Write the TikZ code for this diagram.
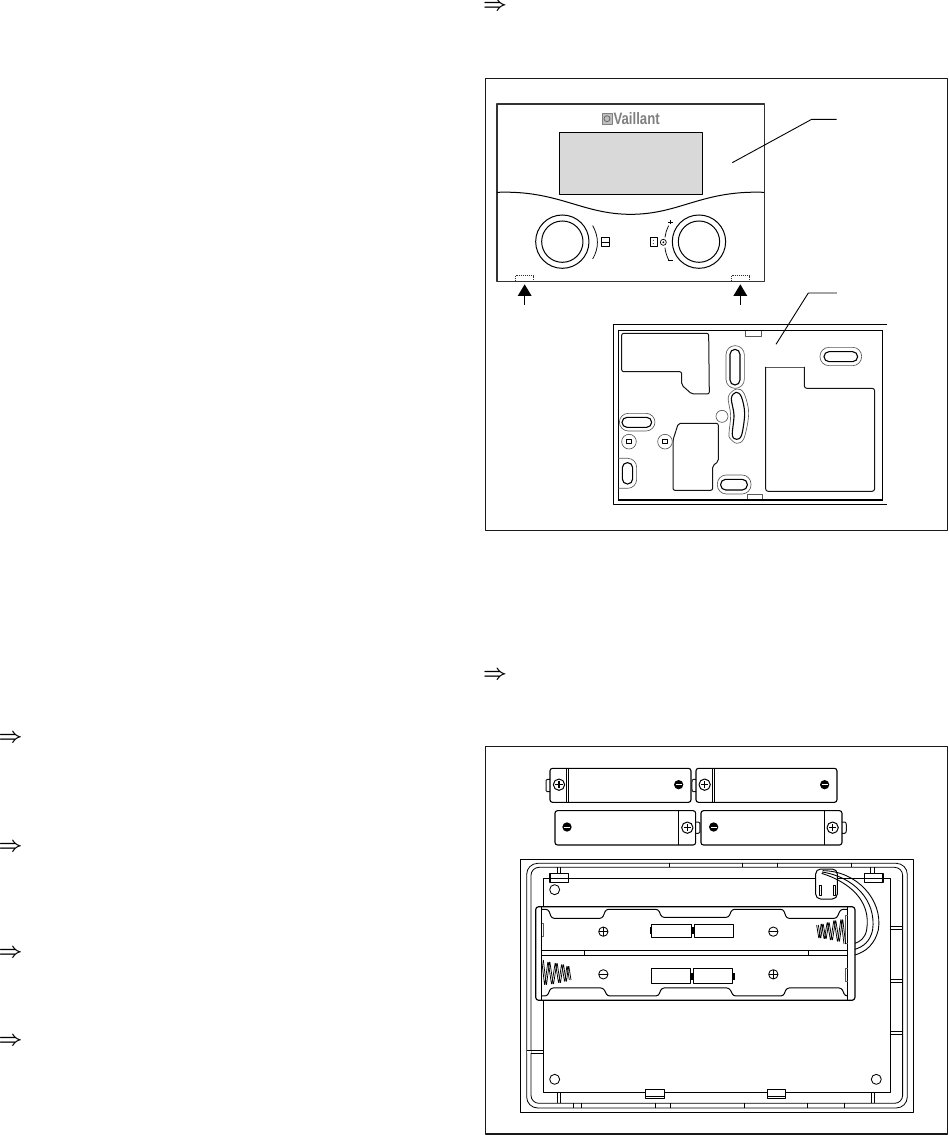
\documentclass[tikz,border=0pt]{standalone}
\usepackage{fontspec}
\setmainfont{Liberation Sans}
\begin{document}
\begin{tikzpicture}[x=1pt,y=-1pt,line join=round,
  frm/.style={draw=black!90,line width=1.1pt},
  ln/.style={draw=black!92,line width=1pt},
  thin gr/.style={draw=black!65,line width=.65pt},
  z1/.style={shift={(485pt,-75pt)},x=.3333pt,y=-.3333pt},
  z2/.style={shift={(600pt,-300pt)},x=.3333pt,y=-.3333pt},
  z3/.style={shift={(520pt,-750pt)},x=.3333pt,y=-.3333pt},
  z4/.style={shift={(520pt,-850pt)},x=.3333pt,y=-.3333pt},
  z5/.style={shift={(515pt,-1000pt)},x=.3333pt,y=-.3333pt},
  impl/.style={inner sep=0pt,font=\fontsize{20}{20}\selectfont\boldmath}]
\useasboundingbox (0,0) rectangle (949,1135);
\fill[white] (0,0) rectangle (949,1135);
% implication arrows
\node[impl] (i1) at (495,6.5) {$\Rightarrow$};
\node[impl] (i2) at (495,675) {$\Rightarrow$};
\node[impl] (i3) at (10.5,738) {$\Rightarrow$};
\node[impl] (i4) at (10.5,847) {$\Rightarrow$};
\node[impl] (i5) at (10.5,953) {$\Rightarrow$};
\node[impl] (i6) at (10.5,1041) {$\Rightarrow$};
% frames
\draw[frm] (485.5,78.5) rectangle (947.5,530.5);
\draw[frm] (485.5,746.5) rectangle (947.5,1134);
% ---------- top figure
\begin{scope}[z1]
\draw[line width=1.2pt,draw=black!80] (36,87) rectangle (838,620);
\draw[line width=1pt,fill=black!15] (224,172) rectangle (652,358);
\draw[line width=1.5pt] (224,172) -- (224,358);
\draw[line width=1pt] (36,352) .. controls (220,345) and (290,418) .. (437,418) .. controls (585,418) and (650,345) .. (838,352);
\node[inner sep=0pt,text=black!50,font=\bfseries\fontsize{16.5}{16.5}\selectfont,xscale=.8] (logo) at (455,131) {Vaillant};
\draw[black!50,line width=.8pt,fill=black!25] (352,114) rectangle (381,149);
\draw[black!60,line width=.8pt] (366,131) circle (9);
\foreach \c in {(232,500),(642,500)}{
  \draw[line width=1pt] \c circle (80);
  \draw[line width=1pt] \c circle (62);
}
\draw[line width=.75pt] (323,452) .. controls (342,485) and (342,520) .. (323,552);
\draw[line width=.85pt] (350,487) rectangle (372,515) (350,501) -- (372,501);
\draw[line width=1pt] (497,487) rectangle (517,515);
\fill (505,496) circle (1.5) (505,506) circle (1.5);
\draw[line width=.7pt] (535,502) circle (9);
\fill (535,502) circle (3);
\draw[line width=.75pt] (551,452) .. controls (545,465) and (541,475) .. (540,487);
\draw[line width=.75pt] (540,518) .. controls (541,530) and (545,542) .. (551,555);
\draw[line width=.75pt] (550,442) -- (563,442) (556.5,436) -- (556.5,448);
\draw[line width=1pt] (550,558) -- (563,558);
\draw[line width=.5pt,dash pattern=on 1.2pt off .8pt,draw=black!80] (92,602) rectangle (146,618);
\draw[line width=.5pt,dash pattern=on 1.2pt off .8pt,draw=black!80] (740,602) rectangle (794,618);
\fill (119,628) -- (98,663) -- (140,663) -- cycle;
\fill (766,628) -- (745,663) -- (787,663) -- cycle;
\draw[line width=.9pt] (119,660) -- (119,690);
\draw[line width=.9pt] (766,660) -- (766,690);
\draw[line width=.9pt] (742,263) -- (980,133) -- (1055,133);
\end{scope}
\begin{scope}[z2]
\draw[line width=.9pt] (528,133) -- (625,-21) -- (711,-21);
\draw[line width=1pt] (862,73) -- (40,73) -- (40,615) -- (862,615);
\draw[line width=1.1pt] (55,92) rectangle (848,600);
\draw[thin gr,fill=white] (436,92) rectangle (484,108);
\draw[thin gr,fill=white] (442,583) rectangle (486,600);
\draw[line width=1.1pt] (55,92) -- (848,92) (55,600) -- (848,600);
% cut-outs
\draw[ln,rounded corners=2pt] (65,100) -- (326,100) -- (328,282) -- (275,282) -- (245,255) -- (245,215) -- (65,215) -- cycle;
\draw[ln,rounded corners=2pt] (235,370) -- (355,370) -- (355,485) -- (338,497) -- (338,571) -- (219,571) -- (219,420) -- cycle;
\draw[thin gr] (613,201) -- (497,201);
\draw[ln,rounded corners=2.5pt] (497,201) -- (497,574) -- (824,574) -- (824,265) -- (613,265) -- (613,201);
% slots
\draw[thin gr,rounded corners=9pt] (378,137) rectangle (433,265);
\foreach \a/\b/\c/\d/\r in {390/148/420/255/5, 672/155/773/185/5, 66/352/155/382/5, 362/538/442/570/5, 67/488/98/552/5}{
  \draw[line width=1.1pt,rounded corners=\r pt] (\a,\b) rectangle (\c,\d);
}
\foreach \a/\b/\c/\d/\r in {660/142/785/197/9, 58/340/165/393/9, 352/525/453/582/9}{
  \draw[thin gr,rounded corners=\r pt] (\a,\b) rectangle (\c,\d);
}
\draw[thin gr,rounded corners=9pt] (55,475) -- (110,475) -- (110,565) -- (55,565);
\draw[thin gr] plot[smooth cycle,tension=.55] coordinates {(410,267) (432,280) (446,340) (432,415) (410,430) (390,415) (387,400) (392,345) (385,290)};
\draw[line width=1.1pt] plot[smooth cycle,tension=.55] coordinates {(408,277) (424,290) (434,340) (425,405) (410,418) (397,405) (402,345) (394,295)};
\draw[thin gr] (366,349) circle (18);
\foreach \x in {87,195}{
  \draw[thin gr] (\x,425) circle (22);
  \draw[line width=1pt] (\x-7,418) rectangle (\x+7,432);
}
\end{scope}
% ---------- batteries
\begin{scope}[z3]
\foreach \a/\b/\c/\d/\pl/\mi/\my/\la/\lb/\n/\nb in {
  90/55/513/157/117/476/104/140/146/78/90,
  528/55/951/157/554/914/104/577/583/516/528}{
  \draw[ln] (\nb,88) -- (\n+4,88) to[out=180,in=90] (\n,96) -- (\n,117) to[out=-90,in=180] (\n+4,125) -- (\nb,125);
  \draw[line width=1.1pt,rounded corners=2.5pt] (\a,\b) rectangle (\c,\d);
  \draw[line width=.75pt] (\la,\b) -- (\la,\d) (\lb,\b) -- (\lb,\d);
  \draw[line width=1pt] (\pl,104) circle (17);
  \draw[line width=1.5pt] (\pl-11,104) -- (\pl+11,104) (\pl,93) -- (\pl,115);
  \fill (\mi,\my) circle (14);
  \draw[white,line width=.8pt] (\mi-9,\my) -- (\mi+9,\my);
}
\foreach \a/\c/\pl/\mi/\la in {105/527/502/141/476, 543/966/938/581/914}{
  \draw[ln] (\c,216) -- (\c+8,216) to[out=0,in=90] (\c+13,224) -- (\c+13,242) to[out=-90,in=0] (\c+8,250) -- (\c,250);
  \draw[line width=1.1pt,rounded corners=2.5pt] (\a,182) rectangle (\c,285);
  \draw[line width=1.2pt] (\la,182) -- (\la,285);
  \draw[line width=1pt] (\pl,233) circle (17);
  \draw[line width=1.5pt] (\pl-11,233) -- (\pl+11,233) (\pl,222) -- (\pl,244);
  \fill (\mi,231) circle (14);
  \draw[white,line width=.8pt] (\mi-9,231) -- (\mi+9,231);
}
\end{scope}
% ---------- holder
\begin{scope}[z4]
\draw[line width=.9pt] (0,27.5) rectangle (1179.5,787);
\draw[line width=.8pt,rounded corners=11pt] (20,40) rectangle (1162,774);
\draw[line width=.8pt,rounded corners=8pt] (33,52) rectangle (1148,760);
\foreach \x in {448,667,772,994} \draw[line width=.75pt] (\x,40) -- (\x,52);
% plate
\draw[line width=1pt] (70,85) rectangle (1113,727);
% top tabs
\foreach \a/\s/\t in {90/112/122, 1033/1052/1062}{
  \draw[line width=.75pt] (\s,52) -- (\s,70) (\t,52) -- (\t,70);
  \draw[line width=1.1pt,fill=white] (\a,70) rectangle (\a+56,97);
  \draw[line width=.6pt] (\a,85) -- (\a+56,85);
}
\draw[line width=.85pt] (104,119) circle (15);
% side notches
\foreach \y in {228,238,388,398,544,553} \draw[line width=.85pt] (1113,\y) -- (1148,\y);
\draw[line width=1pt] (20,602) -- (70,602) (33,610) -- (70,610);
\fill[white] (20,604) rectangle (32,609);
% connector
\draw[line width=1pt,fill=white,rounded corners=5pt] (887,57) rectangle (952,147);
\draw[line width=.85pt] (897,105) rectangle (903,135) (939,105) rectangle (945,135);
% wires
\begin{scope}[line width=.9pt,double=white,double distance=1.2pt,draw=black]
\draw (908,62) .. controls (1010,62) and (1090,150) .. (1075,240) .. controls (1065,280) and (1040,305) .. (1005,315);
\draw (906,66) .. controls (1000,80) and (1070,150) .. (1058,240) .. controls (1050,275) and (1030,290) .. (1005,298);
\draw (905,70) .. controls (985,95) and (1055,150) .. (1040,240) .. controls (1035,265) and (1020,275) .. (1005,280);
\end{scope}
% battery holder
\draw[line width=1.2pt,fill=white,rounded corners=3pt] (47,170) rectangle (1005,451);
\draw[line width=1pt] (65,172) -- (65,450) (984,172) -- (984,450);
\draw[line width=1pt,rounded corners=2.5pt] (65,178) -- (85,178) -- (95,205) -- (247,205) -- (258,178) -- (415,178) -- (425,202) -- (626,202) -- (636,178) -- (790,178) -- (800,205) -- (950,205) -- (962,178) -- (984,178);
\draw[line width=1pt,rounded corners=2.5pt] (65,438) -- (82,438) -- (92,414) -- (250,414) -- (262,438) -- (415,438) -- (425,414) -- (628,414) -- (640,438) -- (790,438) -- (800,414) -- (965,414) -- (975,438) -- (984,438);
\draw[line width=1.1pt] (65,302) -- (984,302) (65,316) -- (984,316);
\draw[line width=.85pt] (193,302) -- (193,316) (865,302) -- (865,316);
\draw[thin gr] (65,220) -- (70,220) -- (70,260) -- (65,260);
\draw[thin gr] (984,355) -- (976,355) -- (976,395) -- (984,395);
\draw[thin gr] (984,195) -- (976,195) -- (976,280) -- (984,280);
% pole symbols
\foreach \x/\y in {250/245,760/373}{
  \draw[line width=.85pt] (\x,\y) circle (14);
  \draw[line width=.85pt] (\x-14,\y) -- (\x+14,\y) (\x,\y-14) -- (\x,\y+14);
}
\foreach \x/\y in {760/245,250/373}{
  \draw[line width=.85pt] (\x,\y) circle (14);
  \draw[line width=1.1pt] (\x-14,\y) -- (\x+14,\y);
}
% small cells
\draw[line width=1pt] (396,222) rectangle (516,263) (524,222) rectangle (640,263);
\fill (390,230) rectangle (396,252); \fill (516,230) rectangle (524,252);
\draw[line width=1pt] (394,357) rectangle (512,400) (520,357) rectangle (638,400);
\fill (638,368) rectangle (644,390); \fill (512,368) rectangle (520,390);
% springs
\foreach \d in {0,5}{
\draw[line width=.75pt,rounded corners=1.5pt] (890+\d,225) -- (897+\d,268) -- (904+\d,218) -- (913+\d,270) -- (922+\d,214) -- (932+\d,274) -- (942+\d,208) -- (953+\d,278) -- (963+\d,205) -- (972+\d,282);
\draw[line width=.75pt,rounded corners=1.5pt] (153-\d,390) -- (146-\d,345) -- (139-\d,398) -- (130-\d,340) -- (121-\d,402) -- (111-\d,336) -- (100-\d,406) -- (89-\d,332) -- (79-\d,408) -- (70-\d,330);
}
\end{scope}
\begin{scope}[z5]
\foreach \x in {127,136,1069,1078} \draw[line width=.85pt] (\x,277) -- (\x,310);
\foreach \x in {175,199,421,466,688,878,988} \draw[line width=.75pt] (\x,310) -- (\x,324);
\foreach \a/\c in {391/449,757/812}{
  \draw[line width=1.1pt,fill=white] (\a,268) rectangle (\c,296);
  \draw[line width=.6pt] (\a,289) -- (\c,289);
}
\draw[line width=.85pt] (119,238) circle (15) (1084,238) circle (15);
\end{scope}
\end{tikzpicture}
\end{document}
